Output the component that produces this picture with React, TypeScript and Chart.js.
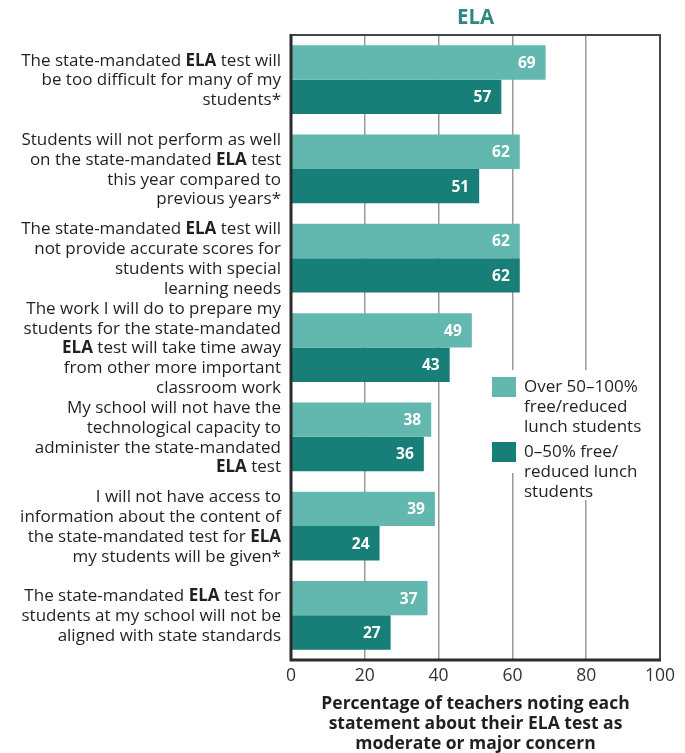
import React, { useEffect, useRef } from "react";
import { Chart, registerables } from "chart.js";

Chart.register(...registerables);

const TITLE = "ELA";

const CATEGORY_LINES: string[][] = [
  ["The state-mandated **ELA** test will", "be too difficult for many of my", "students*"],
  ["Students will not perform as well", "on the state-mandated **ELA** test", "this year compared to", "previous years*"],
  ["The state-mandated **ELA** test will", "not provide accurate scores for", "students with special", "learning needs"],
  ["The work I will do to prepare my", "students for the state-mandated", "**ELA** test will take time away", "from other more important", "classroom work"],
  ["My school will not have the", "technological capacity to", "administer the state-mandated", "**ELA** test"],
  ["I will not have access to", "information about the content of", "the state-mandated test for **ELA**", "my students will be given*"],
  ["The state-mandated **ELA** test for", "students at my school will not be", "aligned with state standards"],
];

const SERIES_NAMES: string[][] = [
  ["Over 50–100%", "free/reduced", "lunch students"],
  ["0–50% free/", "reduced lunch", "students"],
];

const HIGH_FRL = [69, 62, 62, 49, 38, 39, 37];
const LOW_FRL = [57, 51, 62, 43, 36, 24, 27];

const X_MIN = 0;
const X_MAX = 100;
const X_STEP = 20;

const X_TITLE = [
  "Percentage of teachers noting each",
  "statement about their ELA test as",
  "moderate or major concern",
];

const COLORS = ["#62b7af", "#187e78"];
const TEXT = "#231f20";
const FONT = "'Open Sans', 'Noto Sans', sans-serif";

function drawRich(ctx: CanvasRenderingContext2D, line: string, rightX: number, y: number, size: number) {
  const parts = line.split("**");
  const segs = parts.map((t, i) => ({ t, bold: i % 2 === 1 })).filter((s) => s.t.length > 0);
  let total = 0;
  for (const s of segs) {
    ctx.font = `${s.bold ? "bold " : ""}${size}px ${FONT}`;
    total += ctx.measureText(s.t).width;
  }
  let x = rightX - total;
  ctx.textAlign = "left";
  for (const s of segs) {
    ctx.font = `${s.bold ? "bold " : ""}${size}px ${FONT}`;
    ctx.fillText(s.t, x, y);
    x += ctx.measureText(s.t).width;
  }
}

const decorPlugin = {
  id: "decor",
  afterDatasetsDraw(chart: any) {
    const { ctx, chartArea, scales } = chart;
    const { left, right, top, bottom } = chartArea;
    ctx.save();

    // value labels inside bars
    chart.data.datasets.forEach((ds: any, di: number) => {
      const meta = chart.getDatasetMeta(di);
      meta.data.forEach((el: any, i: number) => {
        ctx.font = `bold 15.5px ${FONT}`;
        ctx.fillStyle = "#ffffff";
        ctx.textAlign = "right";
        ctx.textBaseline = "middle";
        ctx.fillText(String(ds.data[i]), el.x - 10, el.y + 1);
      });
    });

    // frame
    ctx.strokeStyle = "#454545";
    ctx.lineWidth = 2;
    ctx.beginPath();
    ctx.moveTo(left, top);
    ctx.lineTo(right, top);
    ctx.lineTo(right, bottom);
    ctx.stroke();
    ctx.strokeStyle = "#2b2b2b";
    ctx.lineWidth = 3;
    ctx.beginPath();
    ctx.moveTo(left, top - 1);
    ctx.lineTo(left, bottom);
    ctx.lineTo(right + 1, bottom);
    ctx.stroke();

    // title
    ctx.fillStyle = "#2e8a80";
    ctx.font = `bold 20.5px ${FONT}`;
    ctx.textAlign = "center";
    ctx.textBaseline = "middle";
    ctx.fillText(TITLE, (left + right) / 2, 18);

    // category labels
    ctx.fillStyle = TEXT;
    ctx.textBaseline = "middle";
    const y = scales.y;
    const lh = 19.8;
    CATEGORY_LINES.forEach((lines, i) => {
      const cy = y.getPixelForValue(i) + 1;
      const y0 = cy - ((lines.length - 1) * lh) / 2;
      lines.forEach((ln, j) => drawRich(ctx, ln, left - 10, y0 + j * lh, 17));
    });

    // legend
    ctx.fillStyle = "#ffffff";
    ctx.fillRect(488, 370, 165, 103);
    ctx.fillRect(520, 473, 80, 27);
    const boxes = [377, 442];
    SERIES_NAMES.forEach((lines, i) => {
      ctx.fillStyle = COLORS[i];
      ctx.fillRect(492, boxes[i], 24, 20);
      ctx.fillStyle = TEXT;
      ctx.font = `17px ${FONT}`;
      ctx.textAlign = "left";
      ctx.textBaseline = "middle";
      lines.forEach((ln, j) => ctx.fillText(ln, 524, boxes[i] + 10 + j * 20));
    });

    ctx.restore();
  },
};

export default function App() {
  const ref = useRef<HTMLCanvasElement | null>(null);

  useEffect(() => {
    if (!ref.current) return;
    const chart = new Chart(ref.current, {
      type: "bar",
      data: {
        labels: CATEGORY_LINES.map((l) => l.join(" ").replace(/\*\*/g, "")),
        datasets: [
          {
            label: SERIES_NAMES[0].join(" "),
            data: HIGH_FRL,
            backgroundColor: COLORS[0],
            categoryPercentage: 0.77,
            barPercentage: 1.0,
          },
          {
            label: SERIES_NAMES[1].join(" "),
            data: LOW_FRL,
            backgroundColor: COLORS[1],
            categoryPercentage: 0.77,
            barPercentage: 1.0,
          },
        ],
      },
      options: {
        indexAxis: "y",
        responsive: false,
        animation: false,
        devicePixelRatio: 1,
        layout: { padding: { left: 291, right: 25, top: 35, bottom: 0 } },
        plugins: {
          legend: { display: false },
          tooltip: { enabled: false },
          title: { display: false },
        },
        scales: {
          y: {
            type: "category",
            display: false,
            offset: true,
          },
          x: {
            type: "linear",
            min: X_MIN,
            max: X_MAX,
            position: "bottom",
            afterFit: (s: any) => {
              s.height = 93;
            },
            ticks: {
              stepSize: X_STEP,
              color: "#333333",
              font: { family: FONT, size: 17.5 },
              padding: 6,
            },
            grid: {
              drawTicks: false,
              color: (c: any) =>
                c.tick && (c.tick.value === X_MIN || c.tick.value === X_MAX) ? "rgba(0,0,0,0)" : "#9a9a9a",
              lineWidth: 1.5,
            },
            border: { display: false },
            title: {
              display: true,
              text: X_TITLE,
              color: TEXT,
              font: { family: FONT, size: 17.5, weight: "bold", lineHeight: 1.143 },
              padding: { top: 0, bottom: -1 },
            },
          },
        },
      },
      plugins: [decorPlugin],
    } as any);
    return () => chart.destroy();
  }, []);

  return (
    <div style={{ position: "fixed", left: 0, top: 0, width: 685, height: 753, background: "#fff" }}>
      <canvas ref={ref} width={685} height={753} style={{ width: 685, height: 753 }} />
    </div>
  );
}
